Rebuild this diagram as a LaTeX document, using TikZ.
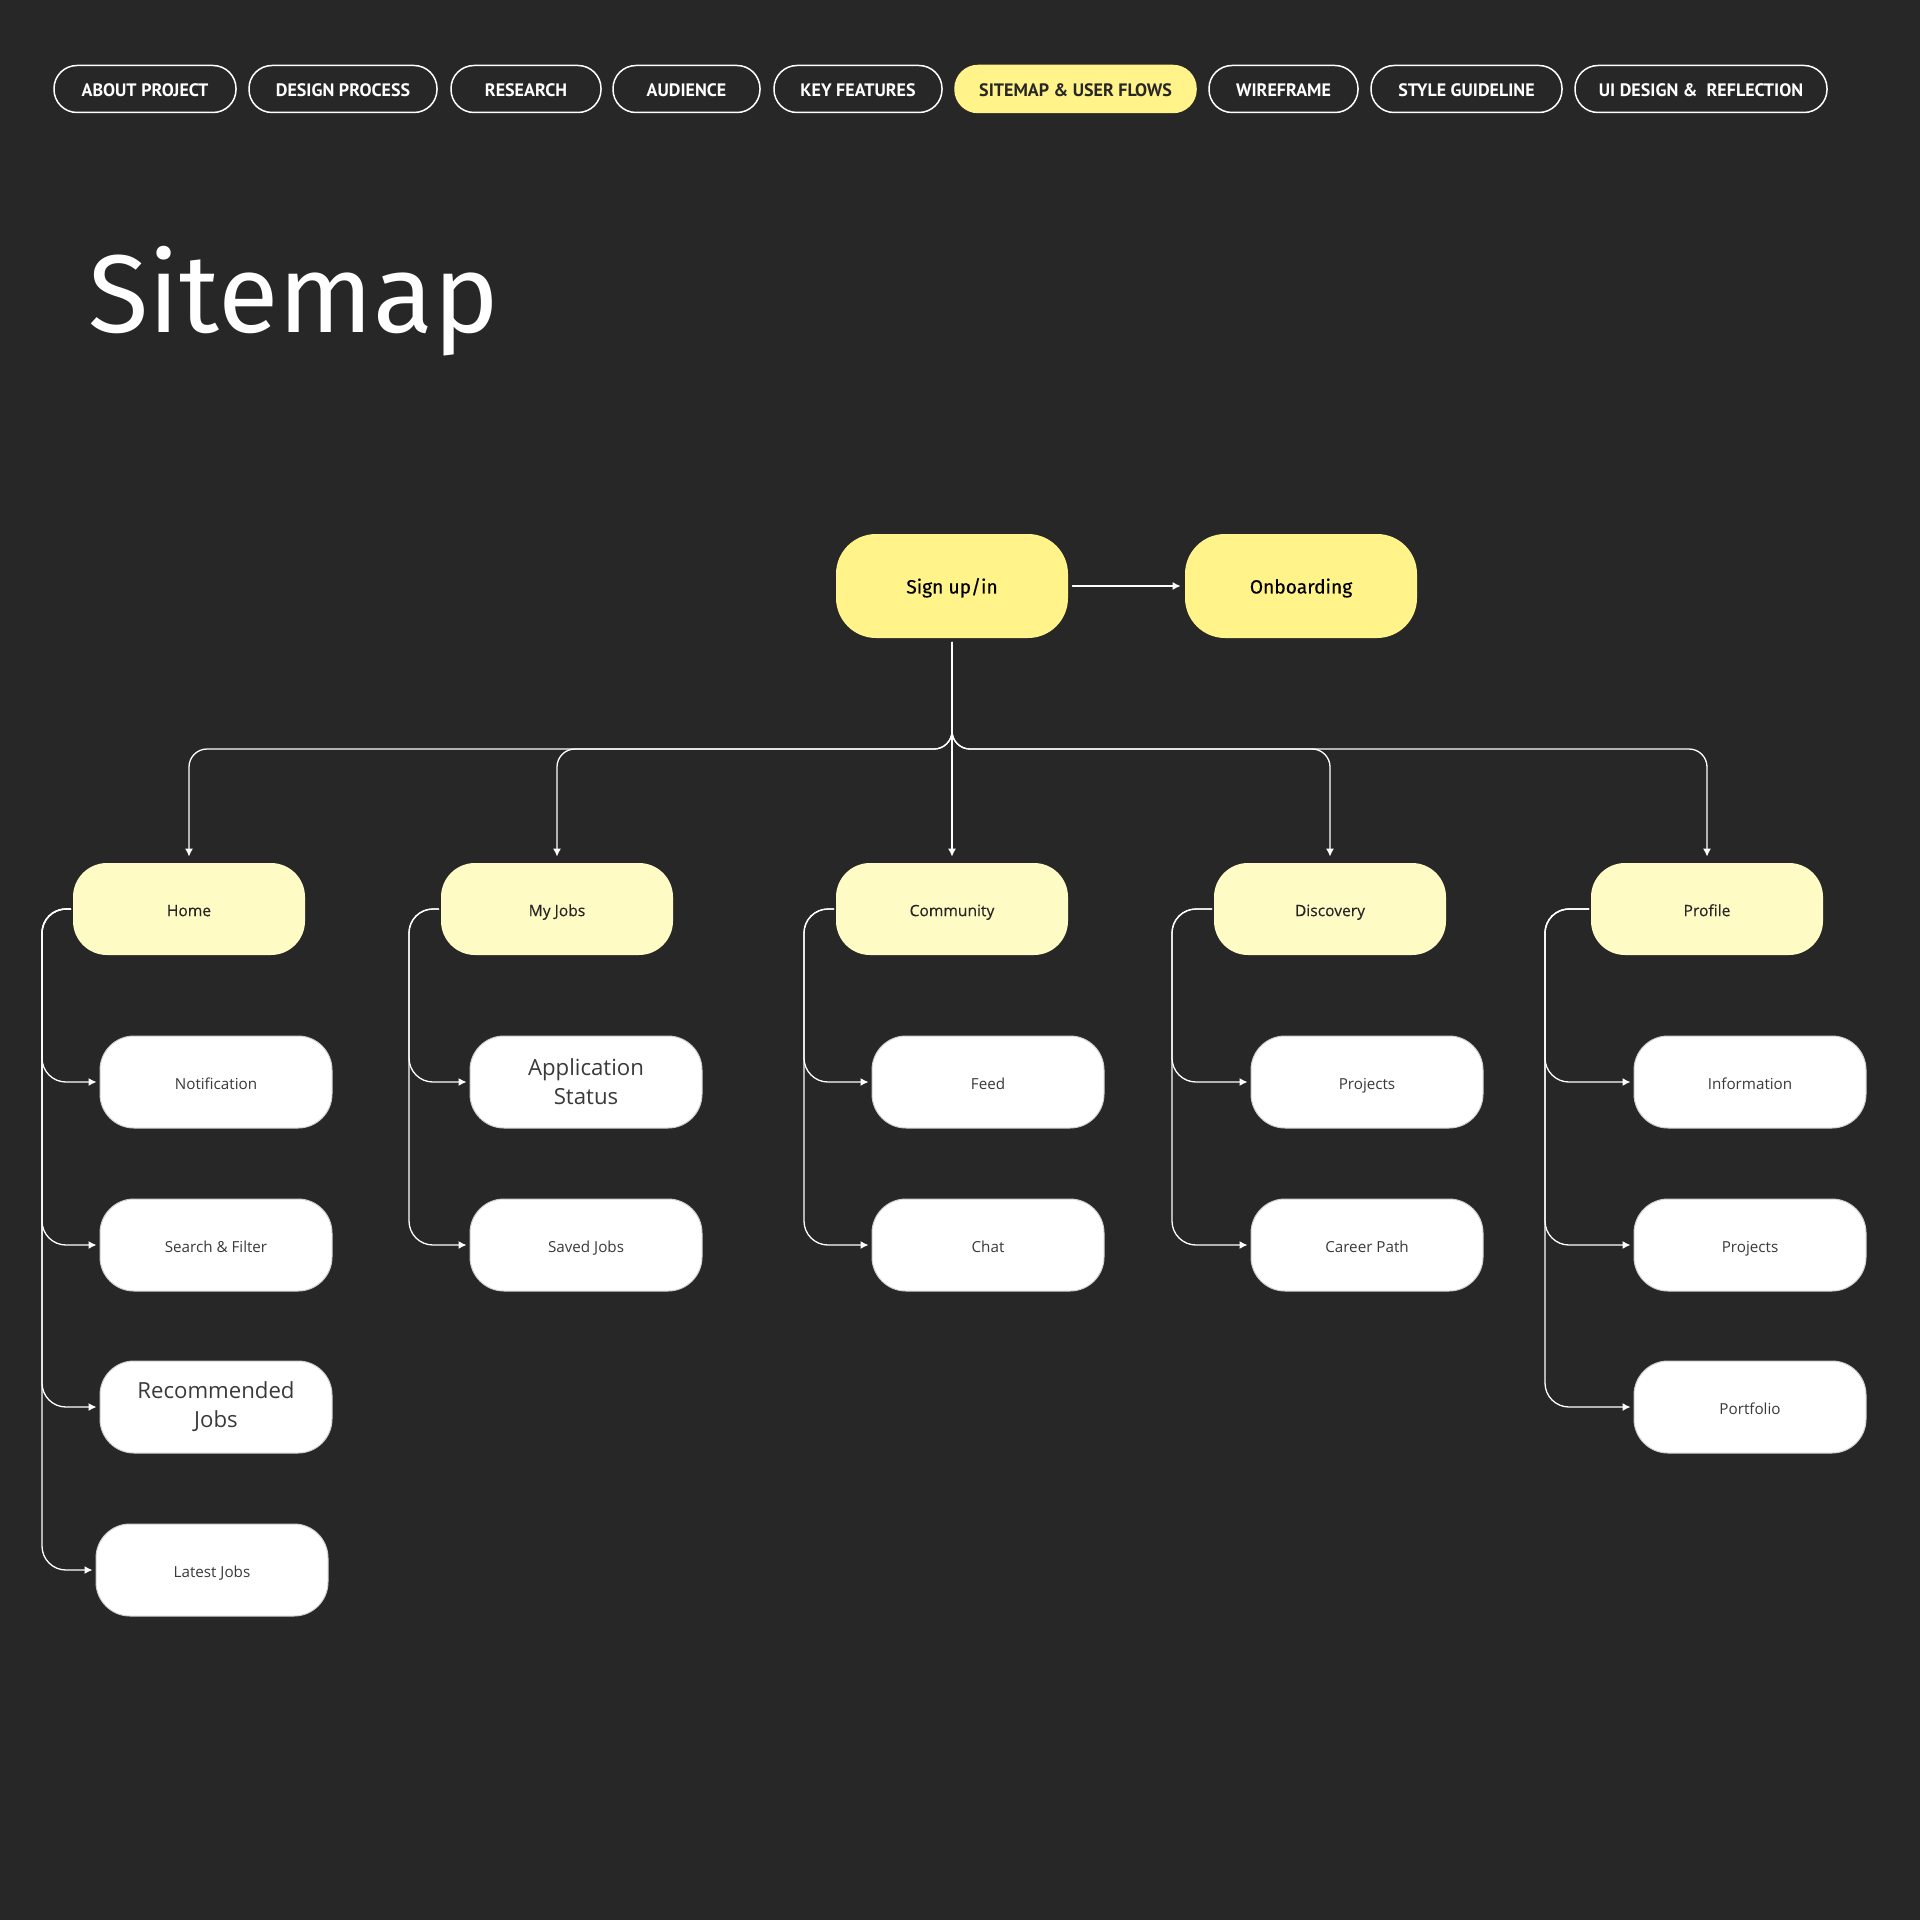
\documentclass[tikz,border=0pt]{standalone}
\usepackage{fontspec}
\usetikzlibrary{arrows.meta}
\setmainfont{Open Sans}
\newfontfamily\navfont{PT Sans}
\newfontfamily\titlefont{Fira Sans}
\newfontfamily\topfont{Fira Sans}[FakeBold=0.4]
\newfontfamily\midfont{Open Sans}[FakeBold=0.3]
\definecolor{bgdark}{HTML}{272727}
\definecolor{signyel}{HTML}{FFF38A}
\definecolor{paleyel}{HTML}{FFFBC4}
\definecolor{boxline}{HTML}{CFCFCF}
\definecolor{boxtext}{HTML}{3A3A3A}
\tikzset{
  navpill/.style={draw=white, line width=0.75pt, rounded corners=11.5pt, minimum height=23.5pt, inner sep=0pt, text height=1.4ex, text depth=0pt, text=white, font=\navfont\bfseries\fontsize{9}{9}\selectfont},
  navon/.style={navpill, fill=signyel, draw=signyel, text=bgdark},
  topbox/.style={fill=signyel, rounded corners=20pt, minimum width=116pt, minimum height=52pt, text height=1.4ex, text depth=0pt, text=black, font=\topfont\fontsize{9.6}{12}\selectfont},
  mainbox/.style={fill=paleyel, rounded corners=17pt, minimum width=116pt, minimum height=46pt, text height=1.33ex, text depth=0pt, text=black!85, font=\midfont\fontsize{7.8}{9}\selectfont},
  subbox/.style={fill=white, draw=boxline, line width=0.5pt, rounded corners=17pt, minimum width=116pt, minimum height=46pt, align=center, text height=1.33ex, text depth=0pt, text=boxtext, font=\fontsize{7.6}{9}\selectfont},
  bigsub/.style={fill=white, draw=boxline, line width=0.5pt, rounded corners=17pt, minimum width=116pt, minimum height=46pt, align=center, text=boxtext, font=\fontsize{11.1}{14.5}\selectfont},
  link/.style={draw=white, line width=0.65pt, ->}
}
\begin{document}
\begin{tikzpicture}[x=0.5pt, y=-0.5pt, line join=round, line cap=round, >={Latex[length=4pt,width=4pt]}]
	%%%%%%%%%%%%%%%%%%%%%%%%%%%%%%%%%
	\fill[bgdark] (0,0) rectangle (1920,1920);
	%%%%%%%%%%%%%%%%%%%%%%%%%%%%%%%%%
	\foreach \cx/\w/\txt [count=\i] in {145/182/ABOUT PROJECT, 343/188/DESIGN PROCESS, 526/150/RESEARCH, 686.5/147/AUDIENCE, 858/168/KEY FEATURES}
		\node[navpill, minimum width=\w*0.5pt] (nav\i) at (\cx,89) {\txt};
	\node[navon, minimum width=120.5pt] (nav6) at (1075.5,89) {SITEMAP \& USER FLOWS};
	\foreach \cx/\w/\txt [count=\i from 7] in {1283.5/149/WIREFRAME, 1466.5/191/STYLE GUIDELINE, 1701/252/{UI DESIGN \&\ \ REFLECTION}}
		\node[navpill, minimum width=\w*0.5pt] (nav\i) at (\cx,89) {\txt};
	%%%%%%%%%%%%%%%%%%%%%%%%%%%%%%%%%
	\node[anchor=base west, inner sep=0pt, text=white, font=\titlefont\fontsize{55.3}{60}\selectfont] (title) at (88,333) {Sitemap};
	%%%%%%%%%%%%%%%%%%%%%%%%%%%%%%%%%
	\node[topbox] (sign) at (952,586) {Sign up/in};
	\node[topbox] (onb) at (1301,586) {Onboarding};
	\node[mainbox] (home) at (189,909) {Home};
	\node[mainbox] (myjobs) at (557,909) {My Jobs};
	\node[mainbox] (comm) at (952,909) {Community};
	\node[mainbox] (disc) at (1330,909) {Discovery};
	\node[mainbox] (prof) at (1707,909) {Profile};
	%%%%%%%%%%%%%%%%%%%%%%%%%%%%%%%%%
	\node[subbox] (notif) at (216,1082) {Notification};
	\node[subbox] (search) at (216,1245) {Search \& Filter};
	\node[bigsub] (recjobs) at (216,1407) {Recommended\\Jobs};
	\node[subbox] (latest) at (212,1570) {Latest Jobs};
	\node[bigsub] (appstatus) at (586,1082) {Application\\Status};
	\node[subbox] (savedjobs) at (586,1245) {Saved Jobs};
	\node[subbox] (feed) at (988,1082) {Feed};
	\node[subbox] (chat) at (988,1245) {Chat};
	\node[subbox] (dprojects) at (1367,1082) {Projects};
	\node[subbox] (career) at (1367,1245) {Career Path};
	\node[subbox] (info) at (1750,1082) {Information};
	\node[subbox] (pprojects) at (1750,1245) {Projects};
	\node[subbox] (portfolio) at (1750,1407) {Portfolio};
	%%%%%%%%%%%%%%%%%%%%%%%%%%%%%%%%%
	\coordinate (bus) at (952,749);
	\coordinate (homerail) at (42,909);
	\coordinate (jobsrail) at (409,909);
	\coordinate (commrail) at (804,909);
	\coordinate (discrail) at (1172,909);
	\coordinate (profrail) at (1545,909);
	%%%%%%%%%%%%%%%%%%%%%%%%%%%%%%%%%
	\draw[link, shorten <=2pt, shorten >=2pt] (sign.east) -- (onb.west);
	\draw[link, shorten <=2pt, shorten >=3pt] (sign.south) -- (comm.north);
	\foreach \n in {home,myjobs,disc,prof}
		\draw[link, rounded corners=9pt, shorten <=2pt, shorten >=3pt] (sign.south) |- (bus -| \n.north) -- (\n.north);
	\begin{scope}[rounded corners=12pt, shorten <=1pt, shorten >=1.5pt]
		\foreach \c in {notif,search,recjobs,latest}
			\draw[link] (home.west) -- (homerail) |- (\c.west);
		\foreach \c in {appstatus,savedjobs}
			\draw[link] (myjobs.west) -- (jobsrail) |- (\c.west);
		\foreach \c in {feed,chat}
			\draw[link] (comm.west) -- (commrail) |- (\c.west);
		\foreach \c in {dprojects,career}
			\draw[link] (disc.west) -- (discrail) |- (\c.west);
		\foreach \c in {info,pprojects,portfolio}
			\draw[link] (prof.west) -- (profrail) |- (\c.west);
	\end{scope}
	%%%%%%%%%%%%%%%%%%%%%%%%%%%%%%%%%
\end{tikzpicture}
\end{document}
